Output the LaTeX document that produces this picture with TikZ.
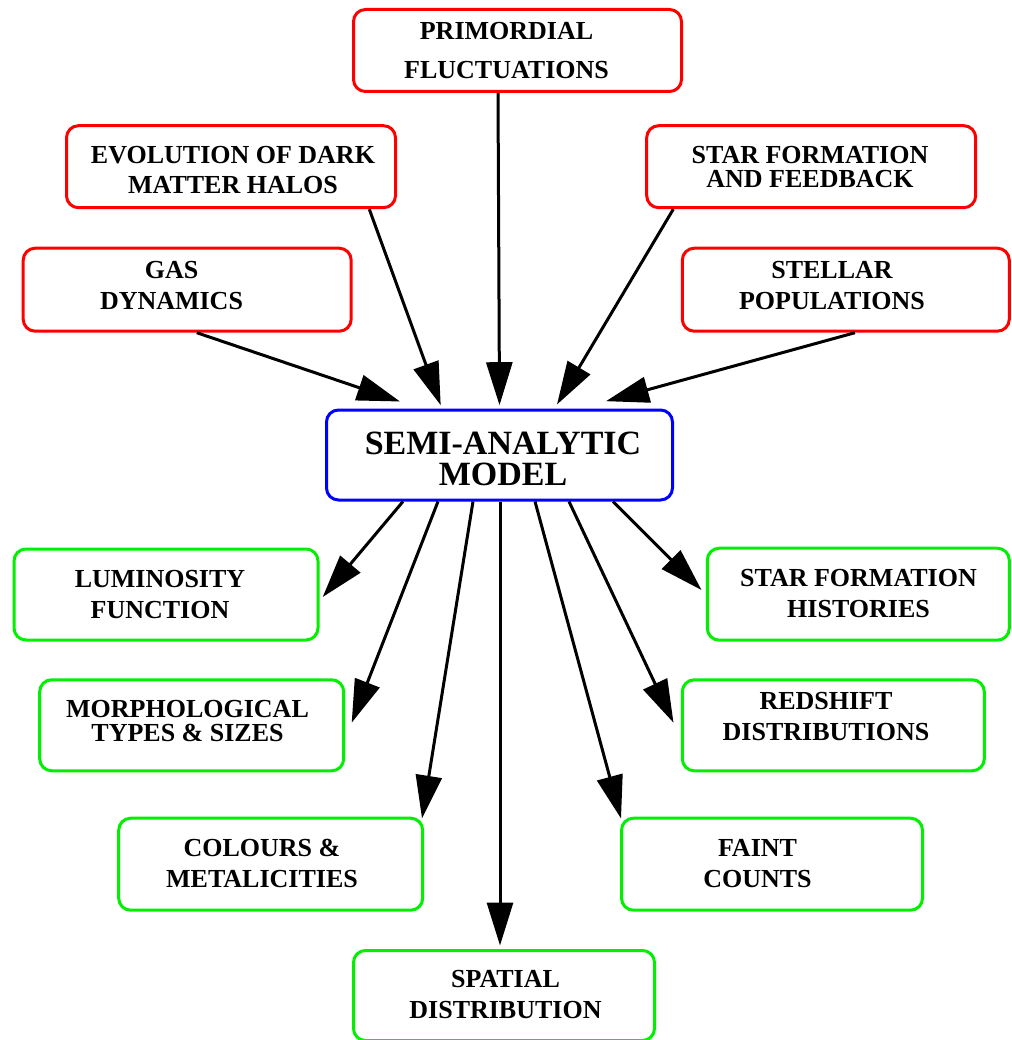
\documentclass[tikz,border=0pt]{standalone}
\usepackage{fontspec}
\setmainfont{Liberation Serif}
\usetikzlibrary{arrows.meta}
\definecolor{bred}{RGB}{255,0,0}
\definecolor{bgreen}{RGB}{0,240,0}
\definecolor{bblue}{RGB}{0,0,255}
\begin{document}
\begin{tikzpicture}[x=1pt,y=-1pt,
  box/.style={draw=#1, line width=3pt, rounded corners=12pt, inner sep=0pt},
  lbl/.style={align=center, inner sep=0pt, font=\bfseries\fontsize{26}{#1}\selectfont},
  biglbl/.style={align=center, inner sep=0pt, font=\bfseries\fontsize{34}{#1}\selectfont},
  arr/.style={line width=3pt, -{Triangle[length=43pt,width=26pt]}}
]
\useasboundingbox (0,0) rectangle (1011,1040);

% input boxes
\node[box=bred, minimum width=328pt, minimum height=82pt] (prim) at (517.5,50.5) {};
\node[box=bred, minimum width=329pt, minimum height=82pt] (evol) at (231,166.7) {};
\node[box=bred, minimum width=329pt, minimum height=82pt] (star) at (811.2,166.7) {};
\node[box=bred, minimum width=328pt, minimum height=83pt] (gas) at (187.2,289.7) {};
\node[box=bred, minimum width=327pt, minimum height=83pt] (stellar) at (845.8,289.7) {};
% central box
\node[box=bblue, minimum width=346pt, minimum height=90pt] (sam) at (499.5,455) {};
% output boxes
\node[box=bgreen, minimum width=304pt, minimum height=91pt] (lum) at (166,594.5) {};
\node[box=bgreen, minimum width=302pt, minimum height=92pt] (sfh) at (858.3,594.2) {};
\node[box=bgreen, minimum width=304pt, minimum height=91pt] (morph) at (191.7,725.3) {};
\node[box=bgreen, minimum width=302pt, minimum height=91pt] (red) at (833.3,725.3) {};
\node[box=bgreen, minimum width=304pt, minimum height=92pt] (col) at (270.7,864.2) {};
\node[box=bgreen, minimum width=301pt, minimum height=92pt] (faint) at (772,864.2) {};
\node[box=bgreen, minimum width=301pt, minimum height=90pt] (spat) at (504,995.5) {};

% labels
\node[lbl=38.3] (tprim) at (506.5,50.55) {PRIMORDIAL\\FLUCTUATIONS};
\node[lbl=30] (tevol) at (233,169.7) {EVOLUTION OF DARK\\MATTER HALOS};
\node[lbl=24] (tstar) at (810,166.7) {STAR FORMATION\\AND FEEDBACK};
\node[lbl=31] (tgas) at (171.5,285.2) {GAS\\DYNAMICS};
\node[lbl=31] (tstellar) at (832,285.2) {STELLAR\\POPULATIONS};
\node[biglbl=31] (tsam) at (503,459.2) {SEMI-ANALYTIC\\MODEL};
\node[lbl=31] (tlum) at (160,594.2) {LUMINOSITY\\FUNCTION};
\node[lbl=31] (tsfh) at (858.5,593.6) {STAR FORMATION\\HISTORIES};
\node[lbl=24] (tmorph) at (187.5,720.7) {MORPHOLOGICAL\\TYPES \& SIZES};
\node[lbl=31.4] (tred) at (826,716.4) {REDSHIFT\\DISTRIBUTIONS};
\node[lbl=30.6] (tcol) at (262,863.4) {COLOURS \&\\METALICITIES};
\node[lbl=30.6] (tfaint) at (757.5,863.4) {FAINT\\COUNTS};
\node[lbl=31.7] (tspat) at (505.5,994.55) {SPATIAL\\DISTRIBUTION};

% incoming arrows
\draw[arr] ([xshift=-19.5pt]prim.south) -- ([yshift=3.3pt]sam.north);
\draw[arr] ([xshift=138.3pt]evol.south) -- ([xshift=-58.8pt,yshift=3.3pt]sam.north);
\draw[arr] ([xshift=-137.9pt]star.south) -- ([xshift=57.5pt,yshift=4pt]sam.north);
\draw[arr] ([xshift=9.5pt]gas.south) -- ([xshift=-99.5pt,yshift=7pt]sam.north);
\draw[arr] ([xshift=9.2pt]stellar.south) -- ([xshift=106.5pt,yshift=7.3pt]sam.north);

% outgoing arrows
\draw[arr] ([xshift=-96.5pt]sam.south) -- ([xshift=3.2pt,yshift=-2.5pt]lum.east);
\draw[arr] ([xshift=-61.5pt]sam.south) -- ([xshift=6.5pt,yshift=2.6pt]morph.east);
\draw[arr] ([xshift=-26.5pt]sam.south) -- ([xshift=151.3pt,yshift=-1.8pt]col.north);
\draw[arr] ([xshift=0.5pt]sam.south) -- ([xshift=-4pt,yshift=3.5pt]spat.north);
\draw[arr] ([xshift=35.5pt]sam.south) -- ([xshift=-151pt,yshift=-1.8pt]faint.north);
\draw[arr] ([xshift=69.5pt]sam.south) -- ([xshift=-7.3pt,yshift=2.6pt]red.west);
\draw[arr] ([xshift=113.5pt]sam.south) -- ([xshift=-4.3pt,yshift=4.2pt]sfh.west);
\end{tikzpicture}
\end{document}
